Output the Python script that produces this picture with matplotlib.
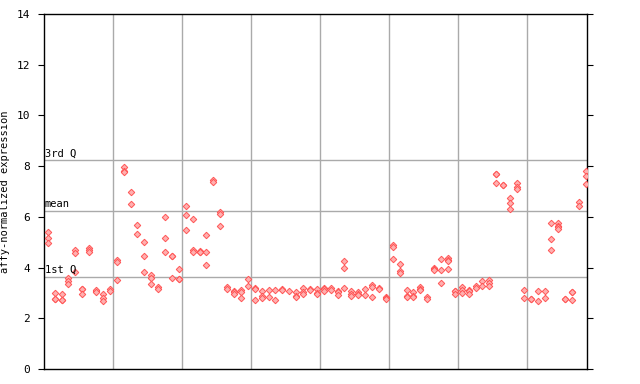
import matplotlib
matplotlib.use("Agg")
import matplotlib.pyplot as plt

# each group: 10 sample columns, each column a list of replicate values
g1 = [[5.40, 5.17, 4.97], [2.98, 2.77, 2.77], [2.94, 2.73, 2.73], [3.57, 3.47, 3.34],
      [4.69, 4.59, 3.84], [3.14, 3.14, 2.94], [4.76, 4.68, 4.61], [3.07, 3.10, 3.04],
      [2.94, 2.79, 2.68], [3.15, 3.07]]
g2 = [[4.30, 4.22, 3.51], [7.95, 7.81, 7.75], [6.97, 6.51], [5.67, 5.31],
      [5.01, 4.44, 3.81], [3.71, 3.57, 3.34], [3.25, 3.17], [5.98, 5.15, 4.61],
      [4.47, 4.44, 3.57], [3.94, 3.54, 3.54]]
g3 = [[6.41, 6.06, 5.47], [5.90, 4.69, 4.61], [4.65, 4.62, 4.60], [5.27, 4.60, 4.09],
      [7.45, 7.37], [6.18, 6.10, 5.63], [3.22, 3.14], [3.08, 3.05, 2.94],
      [3.10, 3.02, 2.79], [3.54, 3.26]]
g4 = [[3.18, 3.15, 2.74], [3.06, 2.87, 2.79], [3.10, 2.83], [3.10, 2.74],
      [3.14, 3.12], [3.06], [3.02, 2.87, 2.85], [3.18, 3.02, 2.94],
      [3.14, 3.12], [3.14, 2.98, 2.96]]
g5 = [[3.18, 3.15, 3.06], [3.18, 3.10], [3.06, 3.04, 2.90], [4.24, 3.97, 3.18],
      [3.06, 2.94, 2.87], [3.02, 2.94, 2.92], [3.14, 2.90], [3.30, 3.22, 2.83],
      [3.18, 3.16], [2.83, 2.80, 2.78]]
g6 = [[4.88, 4.80, 4.33], [4.13, 3.85, 3.77], [3.10, 2.87, 2.85], [3.02, 2.87, 2.85],
      [3.22, 3.14, 3.12], [2.83, 2.78], [3.97, 3.95, 3.89], [4.33, 3.89, 3.38],
      [4.36, 4.30, 4.25, 3.93], [3.09, 3.06, 2.97]]
g7 = [[3.25, 3.13, 3.01], [3.13, 3.09, 3.07, 2.97], [3.29, 3.21], [3.48, 3.29],
      [3.52, 3.40, 3.29], [7.70, 7.68, 7.32], [7.27, 7.25], [6.73, 6.53, 6.32],
      [7.32, 7.19, 7.09], [3.13, 2.81]]
g8 = [[2.77, 2.75], [3.06, 2.69], [3.09, 2.81], [5.74, 5.11, 4.68],
      [5.74, 5.63, 5.60, 5.51], [2.77, 2.75], [3.05, 3.03, 2.73], [6.57, 6.41],
      [7.79, 7.63, 7.28]]
groups = [g1, g2, g3, g4, g5, g6, g7, g8]

q1, mean_val, q3 = 3.62, 6.22, 8.23
red = "#ff5555"

plt.rcParams["font.family"] = "DejaVu Sans Mono"
fig = plt.figure(figsize=(6.4, 3.84), dpi=100)
ax = fig.add_axes([44 / 640, 15 / 384, 543 / 640, 355 / 384])

for g, cols in enumerate(groups):
    for j, vals in enumerate(cols):
        x = g + 0.055 + 0.1 * j
        ax.plot([x] * len(vals), vals, linestyle="none", marker="D", ms=3.3,
                mfc="#ffb0b0", mec=red, mew=0.7, zorder=3)

for g in range(1, 8):
    ax.axvline(g, color="#aaaaaa", lw=1, zorder=1)
for v, lab in [(q1, "1st Q"), (mean_val, "mean"), (q3, "3rd Q")]:
    ax.axhline(v, color="#aaaaaa", lw=1, zorder=1)
    ax.text(0.01, v + 0.08, lab, fontsize=7.5, va="bottom", ha="left", zorder=4)

ax.set_xlim(0, 543 / 69)
ax.set_ylim(0, 14)
ax.set_yticks(range(0, 15, 2))
ax.set_xticks([])
ax.tick_params(axis="y", right=True, labelright=False, direction="out",
               length=4, labelsize=8, pad=6)
ax.set_ylabel("affy-normalized expression", fontsize=7.5)
ax.yaxis.set_label_coords(-0.062, 0.5)
for s in ax.spines.values():
    s.set_linewidth(1)

fig.savefig("out.png", dpi=100)
